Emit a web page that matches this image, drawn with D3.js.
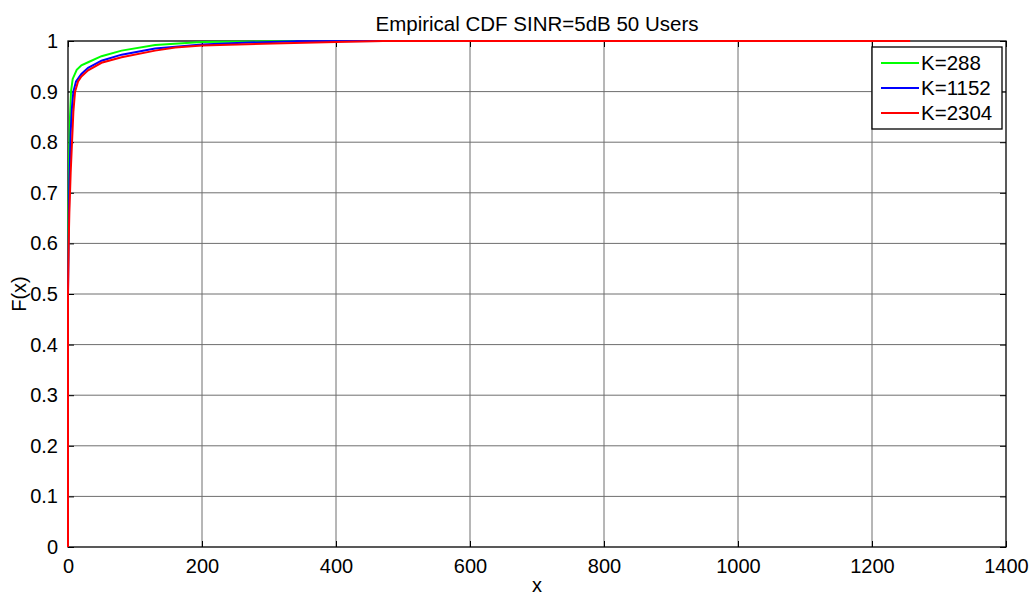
<!DOCTYPE html>
<html>
<head>
<meta charset="utf-8">
<script src="https://cdn.jsdelivr.net/npm/d3@7"></script>
<style>
	body { margin: 0; background: #fff; }
	svg { display: block; font-family: "Liberation Sans", Arial, sans-serif; }
	.grid line { stroke: #6e6e6e; stroke-width: 1; }
	.curve { fill: none; stroke-width: 2; }
</style>
</head>
<body>
<svg width="1036" height="596"></svg>
<script>
const xTicks = [0, 200, 400, 600, 800, 1000, 1200, 1400];
const yTicks = [0, 0.1, 0.2, 0.3, 0.4, 0.5, 0.6, 0.7, 0.8, 0.9, 1];

const seriesNames = ["K=288", "K=1152", "K=2304"];
const seriesColors = ["#00ff00", "#0000ff", "#ff0000"];

// empirical CDF: [x, F(x)]
const k288 = [
	[0, 0], [0, 0.55], [1, 0.7], [2, 0.79], [3, 0.85], [4.5, 0.9], [7, 0.925],
	[13, 0.943], [20, 0.952], [30, 0.958], [50, 0.97], [80, 0.981],
	[130, 0.992], [200, 0.998], [340, 1]
];
const k1152 = [
	[0, 0], [0, 0.5], [1, 0.62], [2, 0.72], [4, 0.82], [6, 0.87], [8, 0.9],
	[12, 0.92], [20, 0.935], [30, 0.947], [50, 0.961], [80, 0.973],
	[130, 0.985], [200, 0.993], [270, 0.997], [340, 0.9995], [480, 1]
];
const k2304 = [
	[0, 0], [0, 0.5], [1, 0.6], [2, 0.66], [4, 0.74], [6, 0.8], [8, 0.86],
	[10.5, 0.9], [15, 0.92], [20, 0.93], [30, 0.942], [50, 0.957], [80, 0.968],
	[130, 0.981], [160, 0.987], [200, 0.991], [306, 0.995], [400, 0.998],
	[470, 1], [1257, 1]
];
const series = [k288, k1152, k2304];

const svg = d3.select("svg");
const m = { left: 68, right: 1006, top: 41, bottom: 547 };

const x = d3.scaleLinear().domain([0, 1400]).range([m.left, m.right]);
const y = d3.scaleLinear().domain([0, 1]).range([m.bottom, m.top]);

// grid
const grid = svg.append("g").attr("class", "grid");
grid.selectAll(".gx").data(xTicks.slice(1, -1)).join("line")
	.attr("class", "gx")
	.attr("x1", (d) => x(d)).attr("x2", (d) => x(d))
	.attr("y1", m.top).attr("y2", m.bottom);
grid.selectAll(".gy").data(yTicks.slice(1, -1)).join("line")
	.attr("class", "gy")
	.attr("x1", m.left).attr("x2", m.right)
	.attr("y1", (d) => y(d)).attr("y2", (d) => y(d));

// axes, ticks pointing inward like matlab
const fmtY = (d) => String(+d.toFixed(1));
svg.append("g").attr("transform", `translate(0,${m.bottom})`)
	.call(d3.axisBottom(x).tickValues(xTicks).tickSize(-6).tickPadding(12).tickFormat((d) => String(d)));
svg.append("g").attr("transform", `translate(0,${m.top})`)
	.call(d3.axisTop(x).tickValues(xTicks).tickSize(-6).tickFormat(""));
svg.append("g").attr("transform", `translate(${m.left},0)`)
	.call(d3.axisLeft(y).tickValues(yTicks).tickSize(-6).tickPadding(10).tickFormat(fmtY));
svg.append("g").attr("transform", `translate(${m.right},0)`)
	.call(d3.axisRight(y).tickValues(yTicks).tickSize(-6).tickFormat(""));

svg.selectAll(".domain").remove();
svg.selectAll(".tick line").attr("stroke", "#000");
svg.selectAll(".tick text")
	.attr("fill", "#000")
	.style("font-size", "20px")
	.style("font-family", "'Liberation Sans', Arial, sans-serif");

svg.append("rect")
	.attr("x", m.left).attr("y", m.top)
	.attr("width", m.right - m.left).attr("height", m.bottom - m.top)
	.attr("fill", "none").attr("stroke", "#000").attr("stroke-width", 1.3);

// curves
const line = d3.line().x((d) => x(d[0])).y((d) => y(d[1]));
svg.selectAll(".curve").data(series).join("path")
	.attr("class", "curve")
	.attr("stroke", (d, i) => seriesColors[i])
	.attr("d", line);

// titles
svg.append("text")
	.attr("x", 537).attr("y", 31)
	.attr("text-anchor", "middle").style("font-size", "20.5px")
	.text("Empirical CDF SINR=5dB 50 Users");
svg.append("text")
	.attr("x", 537).attr("y", 592)
	.attr("text-anchor", "middle").style("font-size", "20px")
	.text("x");
svg.append("text")
	.attr("transform", `translate(26,${y(0.5)}) rotate(-90)`)
	.attr("text-anchor", "middle").style("font-size", "20px")
	.text("F(x)");

// legend
const legend = svg.append("g").attr("transform", "translate(872,47)");
legend.append("rect")
	.attr("width", 130).attr("height", 82)
	.attr("fill", "#fff").attr("stroke", "#000").attr("stroke-width", 1.3);
const rows = legend.selectAll(".row").data(seriesNames).join("g")
	.attr("class", "row")
	.attr("transform", (d, i) => `translate(0,${16 + i * 25})`);
rows.append("line")
	.attr("x1", 9).attr("x2", 47)
	.attr("stroke", (d, i) => seriesColors[i]).attr("stroke-width", 2);
rows.append("text")
	.attr("x", 49).attr("dy", "0.36em")
	.style("font-size", "20.5px")
	.text((d) => d);
</script>
</body>
</html>
